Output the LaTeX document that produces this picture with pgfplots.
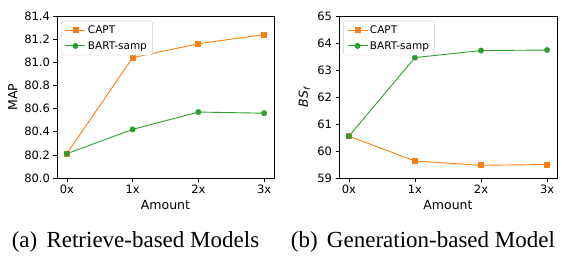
\documentclass[border=0pt]{standalone}
\usepackage{pgfplots}
\pgfplotsset{compat=1.18}
\usepackage{fontspec}
\setmainfont{DejaVu Sans}
\newfontfamily\capfont{Liberation Serif}
\definecolor{tabor}{HTML}{FF7F0E}
\definecolor{tabgr}{HTML}{2CA02C}
\begin{document}
\begin{tikzpicture}[x=1pt,y=1pt]
\useasboundingbox (0,0) rectangle (562,255);
\pgfplotsset{
  myax/.style={scale only axis, width=217pt, height=162pt,
    xmin=-0.15, xmax=3.15, xtick={0,1,2,3}, xticklabels={0x,1x,2x,3x},
    tick align=outside, xtick pos=bottom, ytick pos=left,
    major tick length=3.5pt, tick style={black, line width=0.6pt},
    axis line style={line width=0.6pt},
    ticklabel style={font=\fontsize{11.5}{13}\selectfont},
    label style={font=\fontsize{12.5}{14}\selectfont},
    xlabel={Amount},
    /pgf/number format/assume math mode=true,
    legend style={at={(0.02,0.97)}, anchor=north west, font=\fontsize{10.5}{12.5}\selectfont,
      draw=black!20, rounded corners=2pt, inner xsep=3.5pt, inner ysep=2.5pt,
      row sep=2.5pt},
    legend cell align=left,
    legend image code/.code={\draw[mark repeat=2,mark phase=2] plot coordinates {(0pt,0pt)(10pt,0pt)(20pt,0pt)};},
    every axis plot/.append style={line width=0.9pt},
  },
  capt/.style={color=tabor, mark=square*, mark size=2.5pt},
  bart/.style={color=tabgr, mark=*, mark size=2.5pt},
}
\begin{axis}[myax, at={(57pt,77pt)}, anchor=south west,
  ymin=80.0, ymax=81.4, ytick={80.0,80.2,80.4,80.6,80.8,81.0,81.2,81.4},
  yticklabel style={/pgf/number format/fixed, /pgf/number format/fixed zerofill, /pgf/number format/precision=1},
  ylabel={MAP}]
\addplot[capt] coordinates {(0,80.21) (1,81.04) (2,81.16) (3,81.24)};
\addlegendentry{CAPT}
\addplot[bart] coordinates {(0,80.21) (1,80.42) (2,80.57) (3,80.56)};
\addlegendentry{BART-samp}
\end{axis}
\begin{axis}[myax, at={(339pt,77pt)}, anchor=south west, width=218pt,
  ymin=59, ymax=65, ytick={59,60,61,62,63,64,65},
  ylabel={\itshape BS\textsubscript{f}}]
\addplot[capt] coordinates {(0,60.55) (1,59.63) (2,59.47) (3,59.50)};
\addlegendentry{CAPT}
\addplot[bart] coordinates {(0,60.55) (1,63.46) (2,63.72) (3,63.74)};
\addlegendentry{BART-samp}
\end{axis}
\node[font=\capfont\fontsize{23}{25}\selectfont, anchor=base] at (135.5,8) {(a)\hspace{0.4em}Retrieve-based Models};
\node[font=\capfont\fontsize{23}{25}\selectfont, anchor=base] at (423,8) {(b)\hspace{0.4em}Generation-based Model};
\end{tikzpicture}
\end{document}
